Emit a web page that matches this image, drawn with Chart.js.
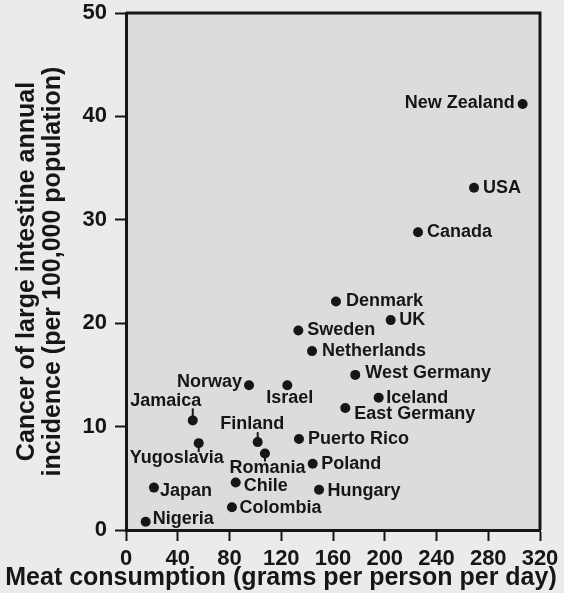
<!DOCTYPE html>
<html>
<head>
<meta charset="utf-8">
<script src="https://cdn.jsdelivr.net/npm/chart.js@4"></script>
<style>
  html, body { margin: 0; padding: 0; background: #ebebeb; }
  #chart { display: block; }
</style>
</head>
<body>
<canvas id="chart" width="564" height="593"></canvas>
<script>
// values
const countries = ["New Zealand", "USA", "Canada", "Denmark", "UK", "Sweden",
    "Netherlands", "West Germany", "Norway", "Israel", "Iceland", "East Germany",
    "Jamaica", "Finland", "Puerto Rico", "Yugoslavia", "Romania", "Poland",
    "Chile", "Japan", "Hungary", "Colombia", "Nigeria"];
const meat = [306.6, 269, 225.7, 162.3, 204.6, 133.2,
    143.8, 177.2, 95.1, 124.7, 195.3, 169.5,
    51.6, 101.8, 133.7, 56.2, 107.4, 144.3,
    84.8, 21.6, 149.2, 81.9, 15.2];
const cancer = [41.2, 33.1, 28.8, 22.1, 20.3, 19.3,
    17.3, 15.0, 14.0, 14.0, 12.8, 11.8,
    10.6, 8.5, 8.8, 8.4, 7.4, 6.4,
    4.6, 4.1, 3.9, 2.2, 0.8];
const xTicks = [0, 40, 80, 120, 160, 200, 240, 280, 320];
const yTicks = [0, 10, 20, 30, 40, 50];
const xTitle = "Meat consumption (grams per person per day)";
const yTitle = ["Cancer of large intestine annual", "incidence (per 100,000 population)"];

// where each name sits next to its dot (side, offset, optional leader)
const place = {
    "New Zealand": ["l", -8, -1], "USA": ["r", 9, 0], "Canada": ["r", 9, 0],
    "Denmark": ["r", 10, 0], "UK": ["r", 8.5, 0], "Sweden": ["r", 9, 0],
    "Netherlands": ["r", 10, 0], "West Germany": ["r", 10, -1.5],
    "Norway": ["l", -7, -3], "Israel": ["c", 2.5, 13], "Iceland": ["r", 7.5, 0],
    "East Germany": ["r", 9, 6], "Jamaica": ["c", -27, -19, -12],
    "Finland": ["c", -5.5, -18, -10], "Puerto Rico": ["r", 9, 0],
    "Yugoslavia": ["c", -22, 14.5, 9], "Romania": ["c", 2.5, 15, 8],
    "Poland": ["r", 8.5, 0], "Chile": ["r", 8, 4], "Japan": ["r", 6, 3],
    "Hungary": ["r", 8.5, 1], "Colombia": ["r", 7.5, 1], "Nigeria": ["r", 7, -2.5]
};

const INK = '#161616';
const FONT = '"Liberation Sans", Arial, Helvetica, sans-serif';
Chart.defaults.font.family = FONT;
Chart.defaults.color = INK;

const decor = {
    id: 'decor',
    beforeDraw(chart) {
        const {ctx, chartArea: a} = chart;
        ctx.save();
        ctx.fillStyle = '#ebebeb';
        ctx.fillRect(0, 0, chart.width, chart.height);
        ctx.fillStyle = '#dcdcdc';
        ctx.fillRect(a.left, a.top, a.right - a.left, a.bottom - a.top);
        ctx.restore();
    },
    beforeDatasetsDraw(chart) {
        const ctx = chart.ctx;
        const pts = chart.getDatasetMeta(0).data;
        ctx.save();
        ctx.strokeStyle = INK;
        ctx.lineWidth = 2;
        countries.forEach((c, i) => {
            const p = place[c];
            if (p && p[3]) {
                ctx.beginPath();
                ctx.moveTo(pts[i].x, pts[i].y);
                ctx.lineTo(pts[i].x, pts[i].y + p[3]);
                ctx.stroke();
            }
        });
        ctx.restore();
    },
    afterDraw(chart) {
        const {ctx, chartArea: a} = chart;
        const pts = chart.getDatasetMeta(0).data;
        ctx.save();
        ctx.strokeStyle = INK;
        ctx.lineWidth = 3;
        ctx.beginPath();
        ctx.moveTo(a.left, a.top);
        ctx.lineTo(a.right, a.top);
        ctx.lineTo(a.right, a.bottom);
        ctx.stroke();

        ctx.fillStyle = INK;
        ctx.font = 'bold 18px ' + FONT;
        ctx.textBaseline = 'middle';
        countries.forEach((c, i) => {
            const p = place[c] || ["r", 8, 0];
            ctx.textAlign = p[0] === 'r' ? 'left' : p[0] === 'l' ? 'right' : 'center';
            ctx.fillText(c, pts[i].x + p[1], pts[i].y + p[2]);
        });

        ctx.font = 'bold 25px ' + FONT;
        ctx.textAlign = 'center';
        ctx.textBaseline = 'alphabetic';
        ctx.fillText(xTitle, 281, 585);
        ctx.restore();
    }
};

new Chart(document.getElementById('chart'), {
    type: 'scatter',
    data: {
        datasets: [{
            data: countries.map((c, i) => ({x: meat[i], y: cancer[i]})),
            pointRadius: 5,
            pointBackgroundColor: INK,
            pointBorderWidth: 0
        }]
    },
    options: {
        responsive: false,
        animation: false,
        devicePixelRatio: 1,
        layout: {padding: {top: 0, right: 24, left: 0, bottom: 0}},
        plugins: {legend: {display: false}, tooltip: {enabled: false}},
        scales: {
            x: {
                type: 'linear',
                min: xTicks[0],
                max: xTicks[xTicks.length - 1],
                afterBuildTicks: s => { s.ticks = xTicks.map(v => ({value: v})); },
                afterFit: s => { s.height = 63; },
                ticks: {font: {size: 22, weight: 'bold'}, color: INK, padding: 5},
                grid: {drawOnChartArea: false, drawTicks: true, tickLength: 11,
                    tickWidth: 2, tickColor: INK},
                border: {display: true, color: INK, width: 3}
            },
            y: {
                type: 'linear',
                min: yTicks[0],
                max: yTicks[yTicks.length - 1],
                afterBuildTicks: s => { s.ticks = yTicks.map(v => ({value: v})); },
                afterFit: s => { s.width = 126; s.paddingTop = 13; },
                ticks: {font: {size: 22, weight: 'bold'}, color: INK, padding: 8},
                grid: {drawOnChartArea: false, drawTicks: true, tickLength: 11,
                    tickWidth: 2, tickColor: INK},
                border: {display: true, color: INK, width: 3},
                title: {
                    display: true,
                    text: yTitle,
                    color: INK,
                    font: {size: 25, weight: 'bold', lineHeight: 1.05},
                    padding: {top: 14, bottom: 0}
                }
            }
        }
    },
    plugins: [decor]
});
</script>
</body>
</html>
